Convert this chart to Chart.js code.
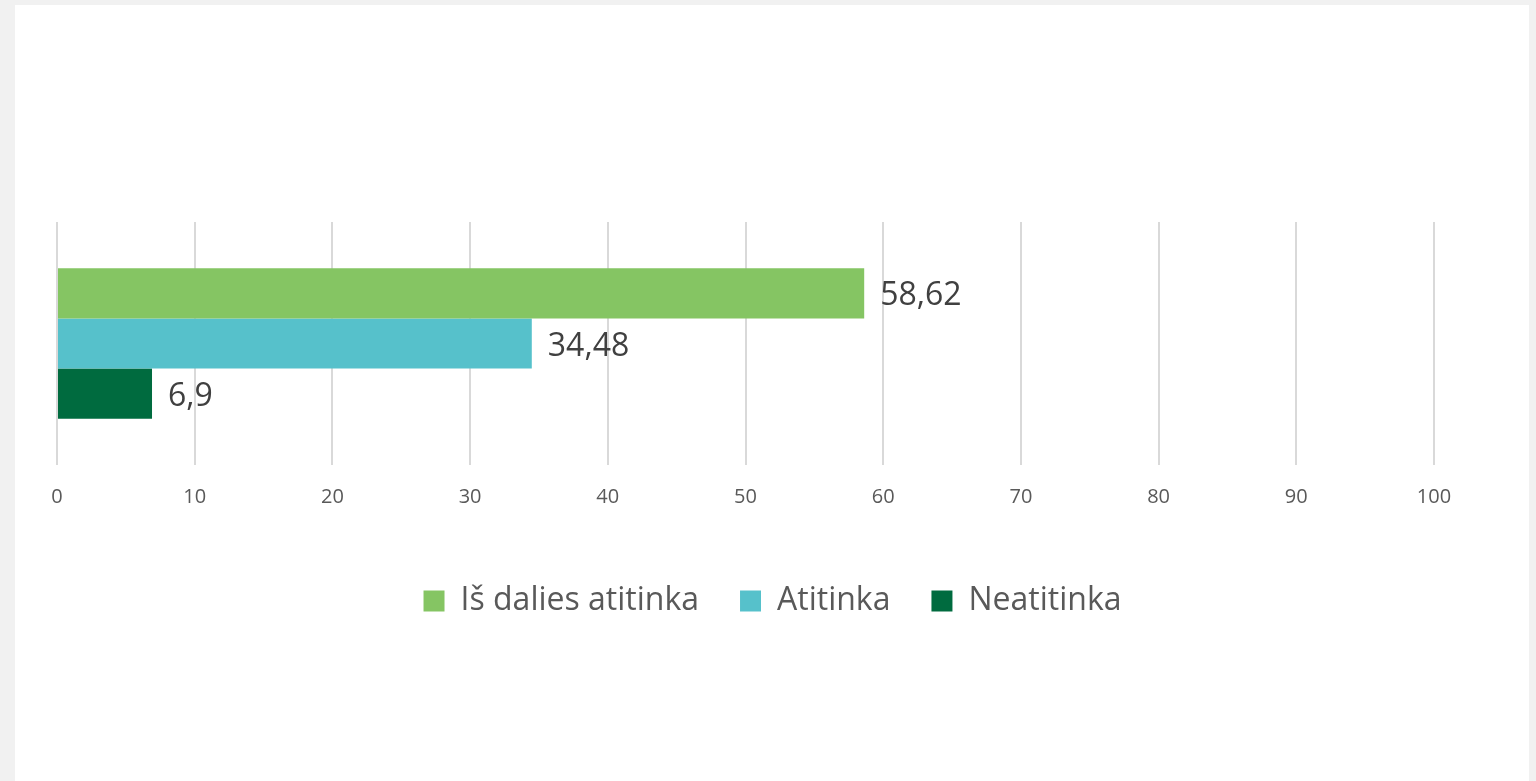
<!DOCTYPE html>
<html>
<head>
<meta charset="utf-8">
<script src="https://cdn.jsdelivr.net/npm/chart.js@4"></script>
<style>
    html, body { margin: 0; padding: 0; background: #f1f1f1; overflow: hidden; }
    #frame { position: absolute; left: 15px; top: 5px; width: 1514px; height: 776px; background: #ffffff; }
    #chart { display: block; }
</style>
</head>
<body>
<div id="frame"><canvas id="chart" width="1514" height="776"></canvas></div>
<script>
// Duomenys
const categories = [''];
const seriesNames = ['Iš dalies atitinka', 'Atitinka', 'Neatitinka'];
const seriesValues = [[58.62], [34.48], [6.9]];
const seriesColors = ['#85c563', '#56c1cb', '#006b3f'];
const tickValues = [0, 10, 20, 30, 40, 50, 60, 70, 80, 90, 100];

const FONT = '"Open Sans", "Noto Sans", sans-serif';

// reiksmiu etiketes prie stulpeliu galu
const valueLabels = {
    id: 'valueLabels',
    afterDatasetsDraw(chart) {
        const ctx = chart.ctx;
        ctx.save();
        ctx.font = '32px ' + FONT;
        ctx.fillStyle = '#404040';
        ctx.textAlign = 'left';
        ctx.textBaseline = 'middle';
        chart.data.datasets.forEach((ds, i) => {
            chart.getDatasetMeta(i).data.forEach((bar, j) => {
                const txt = String(ds.data[j]).replace('.', ',');
                ctx.fillText(txt, bar.x + 16, bar.y + 3);
            });
        });
        ctx.restore();
    }
};

// legenda centruojama per visa ploti, ne tik per grafiko sriti
const legendShift = {
    id: 'legendShift',
    afterLayout(chart) {
        const lg = chart.legend;
        if (!lg) return;
        lg.left += 27;
        lg.right += 27;
    }
};

const datasets = seriesNames.map((name, i) => ({
    label: name,
    data: seriesValues[i],
    backgroundColor: seriesColors[i],
    borderWidth: 0
}));

new Chart(document.getElementById('chart').getContext('2d'), {
    type: 'bar',
    data: { labels: categories, datasets: datasets },
    plugins: [valueLabels, legendShift],
    options: {
        indexAxis: 'y',
        responsive: false,
        devicePixelRatio: 1,
        animation: false,
        layout: { padding: { left: 42, right: 95, top: 217, bottom: 154 } },
        datasets: { bar: { categoryPercentage: 0.62, barPercentage: 1 } },
        scales: {
            y: { display: false },
            x: {
                min: 0,
                max: 100,
                afterBuildTicks: scale => { scale.ticks = tickValues.map(v => ({ value: v })); },
                afterFit: scale => { scale.height = 79; },
                border: { display: false },
                grid: { color: '#d9d9d9', lineWidth: 2, drawTicks: false },
                ticks: { color: '#595959', font: { family: FONT, size: 20 }, padding: 20 }
            }
        },
        plugins: {
            tooltip: { enabled: false },
            legend: {
                position: 'bottom',
                labels: {
                    color: '#595959',
                    font: { family: FONT, size: 32 },
                    boxWidth: 21,
                    boxHeight: 21,
                    padding: 41
                }
            }
        }
    }
});
</script>
</body>
</html>
